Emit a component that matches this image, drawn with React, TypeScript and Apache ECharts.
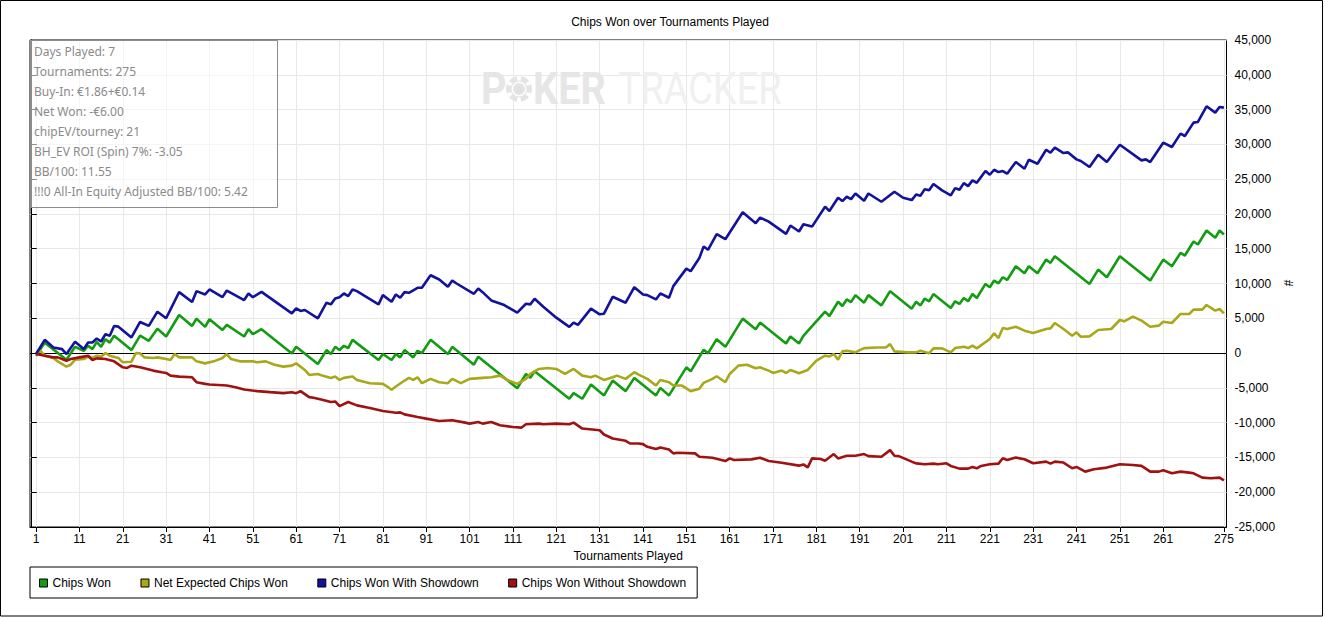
import React, { useEffect, useRef } from "react";
import * as echarts from "echarts";

const xTicks = [1, 11, 21, 31, 41, 51, 61, 71, 81, 91, 101, 111, 121, 131, 141, 151, 161, 171, 181, 191, 201, 211, 221, 231, 241, 251, 261, 275];

const statsLines = [
  "Days Played: 7",
  "Tournaments: 275",
  "Buy-In: €1.86+€0.14",
  "Net Won: -€6.00",
  "chipEV/tourney: 21",
  "BH_EV ROI (Spin) 7%: -3.05",
  "BB/100: 11.55",
  "!!!0 All-In Equity Adjusted BB/100: 5.42",
];

const seriesNames = ["Chips Won", "Net Expected Chips Won", "Chips Won With Showdown", "Chips Won Without Showdown"];
const seriesColors = ["#129c12", "#a8a81a", "#12129c", "#a01212"];

// Chips Won
const wonT = [1, 3, 8, 10, 12, 13, 14, 15, 16, 17, 18, 19, 23, 25, 27, 29, 31, 34, 37, 38, 40, 41, 44, 45, 49, 50, 51, 53, 60, 61, 66, 68, 69, 70, 71, 72, 73, 74, 80, 81, 83, 84, 85, 86, 88, 89, 90, 92, 96, 97, 102, 103, 112, 114, 115, 116, 124, 125, 127, 129, 132, 134, 137, 139, 144, 145, 147, 151, 152, 155, 156, 158, 160, 164, 167, 168, 174, 175, 177, 178, 183, 184, 186, 187, 188, 189, 190, 192, 193, 196, 198, 203, 204, 205, 206, 207, 208, 212, 213, 214, 215, 216, 217, 218, 220, 221, 222, 223, 224, 225, 227, 229, 230, 232, 234, 235, 236, 244, 246, 248, 251, 258, 261, 263, 265, 266, 268, 269, 271, 273, 274, 275];
const wonV = [-400, 1500, -950, 900, 330, 1050, 570, 1600, 900, 2000, 1500, 2500, 430, 2500, 1760, 3500, 2380, 5470, 3900, 4950, 3760, 4860, 3330, 4050, 2380, 3430, 2710, 3430, -50, 900, -1570, 430, -140, 900, 430, 1050, 710, 1900, -1000, -140, -1000, -140, -620, 430, -620, 330, 0, 1900, -140, 900, -1670, -520, -5050, -3000, -3570, -2620, -6570, -5760, -6570, -4520, -6090, -3950, -5470, -3570, -6090, -5000, -6090, -2050, -2620, 480, -50, 2000, 900, 4950, 3430, 4380, 1380, 2380, 1380, 2480, 5950, 5330, 7380, 6760, 7710, 7330, 8330, 7240, 8330, 6850, 8900, 6380, 7380, 6850, 7850, 7420, 8480, 6480, 7440, 7060, 7920, 7440, 8500, 7920, 9940, 9460, 10420, 10030, 10900, 10510, 12480, 11470, 12480, 11470, 13440, 12960, 13920, 9940, 12000, 10900, 13920, 10420, 13440, 12480, 14400, 14020, 16030, 15600, 17620, 16560, 17620, 17040];

// Net Expected Chips Won
const evT = [1, 2, 3, 5, 6, 8, 9, 10, 12, 13, 14, 15, 16, 17, 18, 20, 21, 23, 24, 25, 26, 28, 29, 31, 32, 33, 34, 37, 38, 40, 42, 44, 45, 46, 48, 51, 52, 54, 56, 58, 60, 61, 63, 64, 66, 67, 69, 70, 71, 72, 74, 75, 78, 81, 82, 83, 84, 86, 87, 88, 89, 90, 92, 94, 96, 97, 99, 101, 104, 106, 108, 110, 112, 114, 115, 117, 119, 121, 123, 125, 127, 129, 130, 132, 134, 135, 137, 139, 140, 142, 144, 145, 147, 148, 150, 152, 154, 155, 157, 158, 160, 161, 163, 165, 167, 168, 170, 171, 173, 174, 175, 177, 179, 181, 183, 184, 185, 186, 187, 188, 190, 191, 192, 195, 197, 198, 199, 202, 204, 205, 207, 208, 210, 212, 213, 215, 216, 217, 218, 221, 222, 223, 224, 225, 227, 229, 231, 234, 235, 236, 238, 240, 241, 242, 244, 246, 249, 251, 252, 254, 256, 258, 260, 261, 263, 265, 267, 268, 270, 271, 273, 274, 275];
const evV = [0, 330, -380, -710, -1190, -1950, -1670, -950, -860, -520, -710, -380, -520, 0, -380, -710, -1330, -1240, 0, -50, -620, -710, -620, -860, -1000, -140, -620, -620, -1190, -1480, -1190, -710, -140, -860, -1190, -1190, -1330, -1190, -1670, -1950, -1810, -1480, -2430, -3140, -3000, -3240, -3570, -3380, -3860, -3570, -3380, -3860, -4330, -4430, -4810, -5280, -4810, -3950, -3570, -3860, -3480, -4330, -3710, -4190, -4330, -3710, -4330, -3710, -3570, -3480, -3240, -3950, -4430, -3710, -3000, -2280, -2140, -2280, -3000, -2280, -3240, -3480, -3240, -3860, -3480, -3240, -3710, -2760, -3090, -3710, -4670, -3860, -4190, -4670, -4670, -5470, -5140, -4280, -3710, -3330, -4190, -3000, -1810, -1670, -2190, -2050, -2520, -2860, -2520, -2860, -2430, -2900, -2430, -1100, -380, -480, -140, -950, 240, 330, 100, 430, 710, 810, 810, 1290, 240, 100, 100, 330, -30, 670, 670, 100, 720, 910, 720, 1060, 670, 2020, 2830, 2160, 3600, 3460, 3790, 3220, 2880, 3460, 3550, 4320, 3460, 2500, 2980, 2350, 2400, 3310, 3460, 4750, 4560, 5230, 4660, 3790, 3940, 4510, 4320, 5620, 5620, 6240, 6240, 6910, 6100, 6340, 5710];

// Chips Won With Showdown
const sdT = [1, 3, 5, 7, 8, 10, 12, 13, 14, 15, 16, 17, 18, 19, 20, 23, 25, 27, 29, 31, 34, 37, 38, 40, 41, 44, 45, 49, 50, 51, 53, 60, 61, 62, 63, 66, 68, 69, 70, 71, 72, 73, 74, 75, 80, 81, 83, 84, 85, 86, 87, 89, 90, 92, 94, 96, 97, 98, 102, 103, 104, 106, 109, 112, 114, 115, 116, 118, 121, 124, 125, 126, 129, 131, 132, 134, 137, 139, 141, 142, 144, 145, 147, 148, 151, 152, 154, 155, 156, 158, 160, 164, 167, 168, 170, 174, 175, 177, 178, 180, 183, 184, 186, 187, 188, 189, 190, 192, 193, 196, 199, 201, 203, 204, 205, 206, 207, 208, 210, 212, 213, 214, 215, 216, 217, 218, 220, 221, 222, 223, 224, 225, 227, 229, 230, 232, 234, 235, 236, 238, 239, 241, 242, 244, 246, 248, 251, 256, 257, 258, 261, 263, 265, 266, 268, 269, 271, 273, 274, 275];
const sdV = [-140, 1900, 810, 570, -140, 1620, 570, 1520, 1520, 2100, 1670, 2700, 2500, 3900, 3800, 2240, 4470, 3900, 5950, 5000, 8760, 7330, 8900, 8430, 9140, 8040, 8990, 7620, 8570, 8040, 8800, 5710, 6430, 6050, 6190, 5000, 7240, 7000, 7850, 8040, 8570, 8190, 9140, 8900, 7000, 8330, 7380, 8430, 7950, 8760, 8660, 9380, 9380, 11190, 10570, 9520, 10420, 10000, 8520, 9280, 8760, 7570, 6900, 5810, 7090, 7000, 7810, 6660, 5090, 3760, 4380, 4050, 6380, 5570, 5660, 8090, 7240, 9470, 8430, 8330, 7710, 8570, 7950, 9620, 12140, 11760, 13660, 15330, 14850, 17090, 16370, 20230, 18660, 19470, 18900, 17140, 18330, 17470, 18520, 18180, 21040, 20420, 22320, 21850, 22470, 22130, 22940, 21900, 22940, 21750, 23180, 22320, 21990, 22800, 22610, 23560, 23400, 24300, 23380, 22660, 23710, 23470, 24430, 24000, 24820, 24480, 26160, 25630, 26350, 26020, 26160, 25780, 27460, 26500, 27790, 27220, 29230, 28800, 29520, 28750, 28850, 27840, 27600, 26740, 28510, 27460, 29950, 27700, 27840, 27460, 30240, 29620, 31540, 31200, 33120, 33220, 35470, 34560, 35380, 35280];

// Chips Won Without Showdown
const nsdT = [1, 3, 5, 6, 8, 9, 11, 13, 14, 15, 17, 19, 21, 22, 23, 25, 28, 30, 31, 32, 34, 37, 38, 40, 41, 45, 47, 49, 52, 55, 58, 60, 61, 62, 64, 65, 67, 69, 70, 71, 73, 75, 78, 81, 84, 85, 86, 89, 91, 94, 97, 100, 101, 103, 104, 106, 108, 111, 113, 114, 117, 118, 121, 124, 125, 127, 131, 132, 134, 137, 138, 140, 141, 142, 144, 145, 147, 148, 149, 153, 154, 157, 160, 161, 162, 166, 168, 170, 173, 177, 178, 179, 180, 182, 183, 185, 186, 188, 190, 192, 193, 196, 198, 199, 200, 203, 204, 206, 208, 209, 211, 212, 214, 216, 217, 218, 219, 221, 223, 224, 225, 227, 229, 231, 234, 235, 236, 238, 240, 241, 243, 245, 248, 251, 254, 256, 258, 260, 261, 263, 265, 267, 268, 270, 272, 274, 275];
const nsdV = [-140, -380, -620, -620, -1100, -860, -620, -380, -1000, -760, -860, -1190, -2050, -2140, -1810, -2050, -2520, -2760, -2860, -3240, -3380, -3480, -4190, -4430, -4520, -4660, -4900, -5240, -5470, -5620, -5760, -5620, -5760, -5470, -6330, -6430, -6710, -7040, -6950, -7620, -7040, -7520, -7900, -8330, -8570, -8520, -8810, -9190, -9420, -9760, -9660, -10000, -10140, -9900, -10140, -9900, -10380, -10620, -10710, -10240, -10140, -10240, -10140, -10240, -10000, -10850, -11090, -11710, -12280, -12610, -13000, -13000, -13090, -13470, -13800, -13570, -13850, -14420, -14330, -14420, -14900, -15040, -15520, -15140, -15380, -15280, -15040, -15520, -15760, -16180, -16000, -16420, -15140, -15230, -15470, -14520, -15140, -14760, -14760, -14520, -14810, -14900, -13950, -14760, -14810, -15610, -15850, -15980, -15890, -15980, -15840, -16220, -16610, -16610, -16370, -16560, -16220, -15980, -15890, -15120, -15360, -15020, -15260, -15840, -15600, -15890, -15600, -15740, -16560, -16370, -17040, -16700, -16460, -15980, -16080, -16220, -17040, -17040, -16850, -17280, -17040, -17180, -17280, -17900, -18000, -17900, -18290];

const FONT = "Liberation Sans, Arial, sans-serif";

function pairs(t: number[], v: number[]) {
  return t.map((x, i) => [x, v[i]]);
}

function buildOption() {
  const allData = [pairs(wonT, wonV), pairs(evT, evV), pairs(sdT, sdV), pairs(nsdT, nsdV)];
  const series: any[] = allData.map((d, i) => ({
    name: seriesNames[i],
    type: "line",
    data: d,
    showSymbol: false,
    symbol: "none",
    lineStyle: { width: 2.6, color: seriesColors[i] },
    itemStyle: { color: seriesColors[i] },
    z: 3,
  }));
  series[0].markLine = {
    silent: true,
    symbol: "none",
    label: { show: false },
    lineStyle: { color: "#000", type: "solid", width: 1 },
    data: [{ yAxis: 0 }],
    z: 2,
  };

  const chipCx = 519;
  const chipCy = 89;
  const notches = [0, 1, 2, 3, 4, 5].map((k) => ({
    type: "sector",
    shape: {
      cx: chipCx,
      cy: chipCy,
      r0: 8.5,
      r: 13,
      startAngle: ((k * 60 - 10) * Math.PI) / 180 - Math.PI / 2,
      endAngle: ((k * 60 + 10) * Math.PI) / 180 - Math.PI / 2,
    },
    style: { fill: "#ffffff" },
    z: 1,
  }));

  const graphic: any[] = [
    {
      type: "rect",
      shape: { x: 0.5, y: 0.5, width: 1322, height: 615.5 },
      style: { fill: "none", stroke: "#000", lineWidth: 1 },
      silent: true,
      z: 10,
    },
    {
      type: "text",
      x: 670,
      y: 21.5,
      style: { text: "Chips Won over Tournaments Played", font: `12px ${FONT}`, fill: "#000", textAlign: "center", textVerticalAlign: "middle" },
      z: 10,
    },
    {
      type: "text",
      x: 1288,
      y: 283,
      rotation: -Math.PI / 2,
      style: { text: "#", font: `12px ${FONT}`, fill: "#000", textAlign: "center", textVerticalAlign: "middle" },
      z: 10,
    },
    // watermark
    {
      type: "text",
      x: 481,
      y: 89,
      scaleX: 0.9,
      style: { text: "P", font: `bold 44px Roboto, sans-serif`, fill: "#e6e6e6", textAlign: "left", textVerticalAlign: "middle" },
      z: 1,
    },
    {
      type: "circle",
      shape: { cx: chipCx, cy: chipCy, r: 13 },
      style: { fill: "#e4e4e4" },
      z: 1,
    },
    ...notches,
    {
      type: "ring",
      shape: { cx: chipCx, cy: chipCy, r0: 6, r: 7.5 },
      style: { fill: "#ffffff" },
      z: 1,
    },
    {
      type: "text",
      x: chipCx,
      y: chipCy + 1,
      style: { text: "♠", font: `10px DejaVu Sans, sans-serif`, fill: "#e0e0e0", textAlign: "center", textVerticalAlign: "middle" },
      z: 1,
    },
    {
      type: "text",
      x: 533,
      y: 89,
      scaleX: 0.9,
      style: { text: "KER", font: `bold 44px Roboto, sans-serif`, fill: "#e6e6e6", textAlign: "left", textVerticalAlign: "middle" },
      z: 1,
    },
    {
      type: "text",
      x: 618,
      y: 89,
      scaleX: 0.86,
      style: { text: "TRACKER", font: `44px Roboto, sans-serif`, fill: "#f0f0f0", textAlign: "left", textVerticalAlign: "middle" },
      z: 1,
    },
    // stats box
    {
      type: "rect",
      shape: { x: 30.5, y: 40.5, width: 247, height: 167 },
      style: { fill: "rgba(255,255,255,0.55)", stroke: "#8c8c8c", lineWidth: 1 },
      z: 20,
    },
    ...statsLines.map((s, i) => ({
      type: "text",
      x: 34,
      y: 51.5 + i * 20,
      style: { text: s, font: `12px "Noto Sans", sans-serif`, fill: "#8a8a8a", textAlign: "left", textVerticalAlign: "middle" },
      z: 21,
    })),
  ];

  return {
    animation: false,
    backgroundColor: "#fff",
    grid: {
      left: 30,
      top: 40,
      width: 1196.5,
      height: 487,
      show: true,
      borderColor: "#000",
      borderWidth: 1,
      backgroundColor: "transparent",
    },
    legend: {
      left: 30,
      top: 567,
      orient: "horizontal",
      icon: "rect",
      itemWidth: 8,
      itemHeight: 8,
      itemGap: 29.5,
      padding: [10, 11, 9, 9],
      borderColor: "#000",
      borderWidth: 1,
      itemStyle: { borderColor: "#000", borderWidth: 1 },
      textStyle: { fontFamily: FONT, fontSize: 12, color: "#000" },
      data: seriesNames,
      selectedMode: false,
    },
    xAxis: {
      type: "value",
      min: -0.4,
      max: 275.6,
      name: "Tournaments Played",
      nameLocation: "middle",
      nameGap: 23,
      nameTextStyle: { fontFamily: FONT, fontSize: 12, color: "#000" },
      axisLine: { show: true, onZero: false, lineStyle: { color: "#000", width: 1 } },
      axisTick: { show: true, length: 5, inside: false, customValues: xTicks, lineStyle: { color: "#000" } },
      axisLabel: { show: true, customValues: xTicks, margin: 6, fontFamily: FONT, fontSize: 12, color: "#000" },
      splitLine: { show: true, lineStyle: { color: "#e8e8e8", width: 1 } },
    },
    yAxis: {
      type: "value",
      position: "right",
      min: -25000,
      max: 45000,
      interval: 5000,
      axisLine: { show: true, lineStyle: { color: "#000", width: 1 } },
      axisTick: { show: true, length: 5, inside: false, lineStyle: { color: "#000" } },
      axisLabel: {
        margin: 8,
        fontFamily: FONT,
        fontSize: 12,
        color: "#000",
        formatter: (v: number) => v.toLocaleString("en-US"),
      },
      splitLine: { show: true, lineStyle: { color: "#e8e8e8", width: 1 } },
    },
    series,
    graphic,
  };
}

export default function App() {
  const ref = useRef<HTMLDivElement>(null);
  useEffect(() => {
    if (!ref.current) return;
    const chart = echarts.init(ref.current, undefined, { renderer: "svg" });
    chart.setOption(buildOption() as any);
    return () => chart.dispose();
  }, []);
  return (
    <div
      ref={ref}
      style={{ position: "fixed", left: 0, top: 0, width: 1325, height: 617, background: "#fff" }}
    />
  );
}
